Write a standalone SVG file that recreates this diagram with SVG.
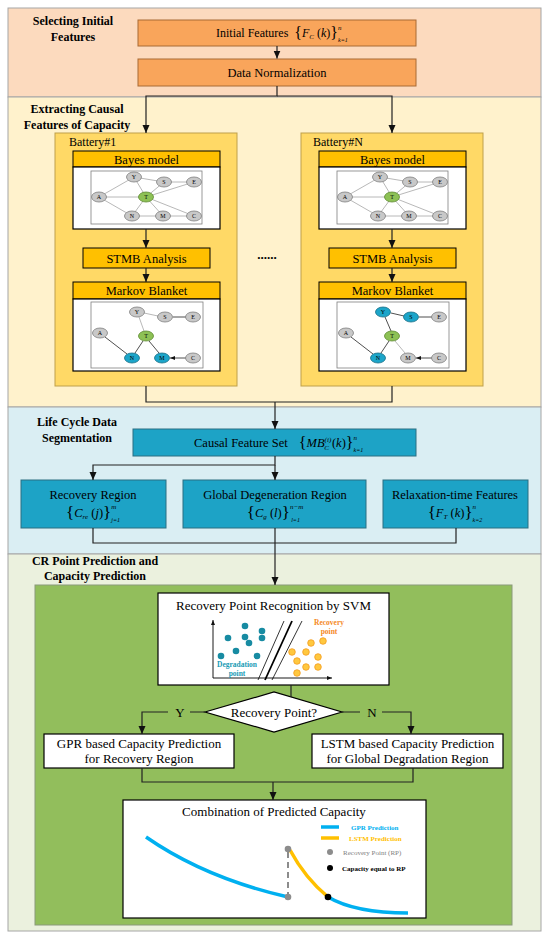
<svg xmlns="http://www.w3.org/2000/svg" xmlns:xlink="http://www.w3.org/1999/xlink" width="550" height="940" viewBox="0 0 550 940">
<style>
text{font-family:"Liberation Serif","Times New Roman",serif;fill:#000}
.title{font-weight:bold;font-size:12px;text-anchor:middle}
.lbl{font-size:12.5px;text-anchor:middle}
.big{font-size:13px;text-anchor:middle}
.sec{stroke:#A6A6A6;stroke-width:1}
.ob{fill:#F9A55B;stroke:#A86A35;stroke-width:1}
.yb{fill:#FFC000;stroke:#000;stroke-width:1}
.tb{fill:#1DA3C6;stroke:#2B6E82;stroke-width:1}
.wb{fill:#fff;stroke:#000;stroke-width:1.2}
.ln{fill:none;stroke:#222;stroke-width:1.2}
.ge{stroke:#A6A6A6;stroke-width:0.8;fill:none}
.ae{stroke:#222;stroke-width:0.8;fill:none;marker-end:url(#sa)}
.ng{fill:#C8C8C8;stroke:#7F7F7F;stroke-width:0.8}
.nG{fill:#8DC155;stroke:#5E8A32;stroke-width:0.8}
.nT{fill:#1CA5C9;stroke:#1B6F86;stroke-width:0.8}
.nl{font-size:6px;text-anchor:middle}
.it{font-style:italic}
.dd{fill:#178BA2}
.od{fill:#FFC83F;stroke:#F49A1E;stroke-width:0.8}
</style>
<defs>
<marker id="ah" markerUnits="userSpaceOnUse" markerWidth="8" markerHeight="8" refX="8" refY="4" orient="auto"><path d="M0,0.5L8,4L0,7.5z" fill="#111"/></marker>
<marker id="sa" markerUnits="userSpaceOnUse" markerWidth="5" markerHeight="4" refX="5" refY="2" orient="auto"><path d="M0,0L5,2L0,4z" fill="#111"/></marker>
<g id="bayesGraph">
<rect x="91" y="171" width="111" height="53" fill="#fff" stroke="#7F7F7F" stroke-width="0.8"/>
<path class="ge" d="M99,197L134,177M99,197L146,197M99,197L132,216M134,177L164,182M134,177L146,197M164,182L194,182M164,182L146,197M194,182L146,197M146,197L132,216M146,197L163,216M146,197L194,216M132,216L163,216M163,216L194,216"/>
<ellipse class="ng" cx="134" cy="177" rx="7.5" ry="5"/><text class="nl" x="134" y="179">Y</text>
<ellipse class="ng" cx="164" cy="182" rx="7.5" ry="5"/><text class="nl" x="164" y="184">S</text>
<ellipse class="ng" cx="194" cy="182" rx="7.5" ry="5"/><text class="nl" x="194" y="184">E</text>
<ellipse class="ng" cx="99" cy="197" rx="7.5" ry="5"/><text class="nl" x="99" y="199">A</text>
<ellipse class="nG" cx="146" cy="197" rx="7.5" ry="5"/><text class="nl" x="146" y="199">T</text>
<ellipse class="ng" cx="132" cy="216" rx="7.5" ry="5"/><text class="nl" x="132" y="218">N</text>
<ellipse class="ng" cx="163" cy="216" rx="7.5" ry="5"/><text class="nl" x="163" y="218">M</text>
<ellipse class="ng" cx="194" cy="216" rx="7.5" ry="5"/><text class="nl" x="194" y="218">C</text>
</g>
</defs>

<!-- Sections -->
<rect class="sec" x="8" y="8" width="533" height="89" fill="#FCDABE"/>
<rect class="sec" x="8" y="97" width="533" height="310" fill="#FFF2CC"/>
<rect class="sec" x="8" y="407" width="533" height="147" fill="#DAEEF3"/>
<rect class="sec" x="8" y="554" width="533" height="377" fill="#EBF1DE"/>
<text class="title" x="73" y="25">Selecting Initial</text>
<text class="title" x="73" y="41">Features</text>
<text class="title" x="77" y="113">Extracting Causal</text>
<text class="title" x="77" y="129">Features of Capacity</text>
<text class="title" x="77" y="426">Life Cycle Data</text>
<text class="title" x="77" y="442">Segmentation</text>
<text class="title" x="95" y="565">CR Point Prediction and</text>
<text class="title" x="95" y="580">Capacity Prediction</text>

<g id="initialFeatures">
<rect class="ob" x="138" y="20" width="278" height="26"/>
<text x="216" y="37" font-size="12">Initial Features <tspan font-size="16" dx="3" dy="1">{</tspan><tspan class="it" dy="-1">F</tspan><tspan class="it" font-size="7" dy="2">C</tspan><tspan dy="-2"> (</tspan><tspan class="it">k</tspan>)<tspan font-size="16" dy="1">}</tspan><tspan class="it" font-size="7" dy="-8">n</tspan><tspan class="it" font-size="6" dx="-3.5" dy="12">k=1</tspan></text>
</g>
<g id="dataNormalization">
<rect class="ob" x="138" y="59" width="278" height="27"/>
<text class="lbl" x="277" y="77">Data Normalization</text>
</g>

<g id="battery1">
<rect x="55" y="133" width="182" height="253" fill="#FFD966" stroke="#BFA04A" stroke-width="1"/>
<text x="69" y="146" font-size="12">Battery#1</text>
<rect class="yb" x="73" y="151" width="147" height="16"/>
<text class="lbl" x="146.5" y="163.5">Bayes model</text>
<rect class="wb" x="73" y="167" width="147" height="62"/>
<use xlink:href="#bayesGraph"/>
<rect class="yb" x="83" y="248" width="127" height="20"/>
<text class="lbl" x="146.5" y="262.5">STMB Analysis</text>
<rect class="yb" x="73" y="282" width="147" height="17"/>
<text class="lbl" x="146.5" y="295">Markov Blanket</text>
<rect class="wb" x="73" y="299" width="147" height="72"/>
<rect x="91" y="302" width="112" height="66" fill="#fff" stroke="#7F7F7F" stroke-width="0.8"/>
<path class="ge" d="M144,313L158,316M139,317L144,331"/>
<path class="ae" d="M186,317L173,317M127,354L105,337M143,341L135,353M159,353L149,341M186,358L170,358"/>
<ellipse class="ng" cx="137" cy="312" rx="7.5" ry="5"/><text class="nl" x="137" y="314">Y</text>
<ellipse class="ng" cx="165" cy="317" rx="7.5" ry="5"/><text class="nl" x="165" y="319">S</text>
<ellipse class="ng" cx="193" cy="317" rx="7.5" ry="5"/><text class="nl" x="193" y="319">E</text>
<ellipse class="ng" cx="100" cy="333" rx="7.5" ry="5"/><text class="nl" x="100" y="335">A</text>
<ellipse class="nG" cx="146" cy="336" rx="7.5" ry="5"/><text class="nl" x="146" y="338">T</text>
<ellipse class="nT" cx="132" cy="358" rx="7.5" ry="5"/><text class="nl" x="132" y="360">N</text>
<ellipse class="nT" cx="162" cy="358" rx="7.5" ry="5"/><text class="nl" x="162" y="360">M</text>
<ellipse class="ng" cx="193" cy="358" rx="7.5" ry="5"/><text class="nl" x="193" y="360">C</text>
</g>

<g id="batteryN" transform="translate(246,0)">
<rect x="55" y="133" width="182" height="253" fill="#FFD966" stroke="#BFA04A" stroke-width="1"/>
<text x="67" y="146" font-size="12">Battery#N</text>
<rect class="yb" x="73" y="151" width="147" height="16"/>
<text class="lbl" x="146.5" y="163.5">Bayes model</text>
<rect class="wb" x="73" y="167" width="147" height="62"/>
<use xlink:href="#bayesGraph"/>
<rect class="yb" x="83" y="248" width="127" height="20"/>
<text class="lbl" x="146.5" y="262.5">STMB Analysis</text>
<rect class="yb" x="73" y="282" width="147" height="17"/>
<text class="lbl" x="146.5" y="295">Markov Blanket</text>
<rect class="wb" x="73" y="299" width="147" height="72"/>
<rect x="91" y="302" width="112" height="66" fill="#fff" stroke="#7F7F7F" stroke-width="0.8"/>
<path class="ge" d="M149,341L159,353"/>
<path class="ae" d="M158,316L145,313M186,317L173,317M145,331L139,317M127,354L105,337M143,341L135,353M186,358L170,358"/>
<ellipse class="nT" cx="137" cy="312" rx="7.5" ry="5"/><text class="nl" x="137" y="314">Y</text>
<ellipse class="nT" cx="165" cy="317" rx="7.5" ry="5"/><text class="nl" x="165" y="319">S</text>
<ellipse class="ng" cx="193" cy="317" rx="7.5" ry="5"/><text class="nl" x="193" y="319">E</text>
<ellipse class="ng" cx="100" cy="333" rx="7.5" ry="5"/><text class="nl" x="100" y="335">A</text>
<ellipse class="nG" cx="146" cy="336" rx="7.5" ry="5"/><text class="nl" x="146" y="338">T</text>
<ellipse class="nT" cx="132" cy="358" rx="7.5" ry="5"/><text class="nl" x="132" y="360">N</text>
<ellipse class="ng" cx="162" cy="358" rx="7.5" ry="5"/><text class="nl" x="162" y="360">M</text>
<ellipse class="ng" cx="193" cy="358" rx="7.5" ry="5"/><text class="nl" x="193" y="360">C</text>
</g>
<text x="267" y="259" font-size="13" font-weight="bold" text-anchor="middle">......</text>

<g id="causalFeatureSet">
<rect class="tb" x="133" y="429" width="283" height="27"/>
<text x="194" y="447" font-size="12.5">Causal Feature Set <tspan font-size="16" dx="8" dy="1">{</tspan><tspan class="it" dy="-1">MB</tspan><tspan class="it" font-size="7" dy="-5">(i)</tspan><tspan class="it" font-size="7" dx="-7" dy="8">C</tspan><tspan dx="3" dy="-3">(</tspan><tspan class="it">k</tspan>)<tspan font-size="16" dy="1">}</tspan><tspan class="it" font-size="7" dy="-8">n</tspan><tspan class="it" font-size="6" dx="-3.5" dy="12">k=1</tspan></text>
</g>
<g id="recoveryRegion">
<rect class="tb" x="21" y="480" width="145" height="48"/>
<text class="lbl" x="93" y="499">Recovery Region</text>
<text x="93" y="518" font-size="12.5" text-anchor="middle"><tspan font-size="17">{</tspan><tspan class="it" dy="-1">C</tspan><tspan class="it" font-size="7" dy="2">re</tspan><tspan dy="-2"> (</tspan><tspan class="it">j</tspan>)<tspan font-size="17" dy="1">}</tspan><tspan class="it" font-size="7" dy="-9">m</tspan><tspan class="it" font-size="6" dx="-5" dy="13">j=1</tspan></text>
</g>
<g id="globalDegeneration">
<rect class="tb" x="183" y="480" width="183" height="48"/>
<text class="lbl" x="275" y="499">Global Degeneration Region</text>
<text x="275" y="518" font-size="12.5" text-anchor="middle"><tspan font-size="17">{</tspan><tspan class="it" dy="-1">C</tspan><tspan class="it" font-size="7" dy="2">g</tspan><tspan dy="-2"> (</tspan><tspan class="it">l</tspan>)<tspan font-size="17" dy="1">}</tspan><tspan class="it" font-size="7" dy="-9">n−m</tspan><tspan class="it" font-size="6" dx="-12" dy="13">l=1</tspan></text>
</g>
<g id="relaxationFeatures">
<rect class="tb" x="383" y="480" width="145" height="48"/>
<text class="lbl" x="455" y="499">Relaxation-time Features</text>
<text x="455" y="518" font-size="12.5" text-anchor="middle"><tspan font-size="17">{</tspan><tspan class="it" dy="-1">F</tspan><tspan class="it" font-size="7" dy="2">T</tspan><tspan dy="-2"> (</tspan><tspan class="it">k</tspan>)<tspan font-size="17" dy="1">}</tspan><tspan class="it" font-size="7" dy="-9">n</tspan><tspan class="it" font-size="6" dx="-3.5" dy="13">k=2</tspan></text>
</g>

<rect x="35" y="585" width="477" height="340" fill="#92BE5C" stroke="#8A9A7A" stroke-width="1"/>

<g id="svm">
<rect class="wb" x="158" y="593" width="231" height="92"/>
<text class="big" x="273.5" y="610">Recovery Point Recognition by SVM</text>
<path d="M213,678H332" stroke="#000" stroke-width="0.9" fill="none" marker-end="url(#sa)"/>
<path d="M213,678V620" stroke="#000" stroke-width="0.9" fill="none" marker-end="url(#sa)"/>
<path d="M258,680L284,621M272,680L302,621" stroke="#000" stroke-width="0.8"/>
<path d="M265,680L292,621" stroke="#000" stroke-width="1.8"/>
<g class="dd">
<circle cx="228" cy="638" r="3.3"/><circle cx="245" cy="626" r="3.3"/><circle cx="245" cy="637" r="3.3"/>
<circle cx="262" cy="631" r="3.3"/><circle cx="262" cy="638" r="3.3"/><circle cx="249" cy="643" r="3.3"/>
<circle cx="221" cy="656" r="3.3"/><circle cx="236" cy="651" r="3.3"/><circle cx="257" cy="656" r="3.3"/>
</g>
<g class="od">
<circle cx="311" cy="643" r="3.3"/><circle cx="323" cy="641" r="3.3"/><circle cx="292" cy="652" r="3.3"/>
<circle cx="306" cy="652" r="3.3"/><circle cx="318" cy="657" r="3.3"/><circle cx="297" cy="661" r="3.3"/>
<circle cx="306" cy="667" r="3.3"/><circle cx="318" cy="667" r="3.3"/><circle cx="297" cy="673" r="3.3"/>
</g>
<text x="237" y="667" font-size="7.5" font-weight="bold" text-anchor="middle" style="fill:#1A9BB5">Degradation</text>
<text x="237" y="676" font-size="7.5" font-weight="bold" text-anchor="middle" style="fill:#1A9BB5">point</text>
<text x="329" y="625" font-size="7.5" font-weight="bold" text-anchor="middle" style="fill:#F58A1F">Recovery</text>
<text x="329" y="634" font-size="7.5" font-weight="bold" text-anchor="middle" style="fill:#F58A1F">point</text>
</g>

<g id="decision">
<polygon points="205,712 274,692 342,712 274,732" fill="#fff" stroke="#000" stroke-width="1.2"/>
<text class="big" x="274" y="716.5">Recovery Point?</text>
</g>
<text class="big" x="180" y="716.5">Y</text>
<text class="big" x="372" y="716.5">N</text>

<g id="gprPrediction">
<rect class="wb" x="44" y="734" width="190" height="34"/>
<text class="big" x="139" y="748">GPR based Capacity Prediction</text>
<text class="big" x="139" y="763">for Recovery Region</text>
</g>
<g id="lstmPrediction">
<rect class="wb" x="312" y="734" width="191" height="34"/>
<text class="big" x="407.5" y="748">LSTM based Capacity Prediction</text>
<text class="big" x="407.5" y="763">for Global Degradation Region</text>
</g>

<g id="combination">
<rect class="wb" x="123" y="800" width="303" height="118"/>
<text class="big" x="274" y="816">Combination of Predicted Capacity</text>
<path d="M146,837Q205,878 288,897" stroke="#00B0F0" stroke-width="3.5" fill="none"/>
<path d="M328,897Q355,913 408,913" stroke="#00B0F0" stroke-width="3.5" fill="none"/>
<path d="M290,850Q305,878 328,897" stroke="#FFC000" stroke-width="3.5" fill="none"/>
<path d="M288,852V895" stroke="#808080" stroke-width="1.8" stroke-dasharray="6,4"/>
<circle cx="288" cy="849" r="3.3" fill="#8C8C8C"/>
<circle cx="288" cy="897" r="3.3" fill="#8C8C8C"/>
<circle cx="328" cy="897" r="3.3" fill="#000"/>
<path d="M321,827H339" stroke="#00B0F0" stroke-width="3.5"/>
<path d="M321,838H339" stroke="#FFC000" stroke-width="3.5"/>
<circle cx="330" cy="852" r="3" fill="#8C8C8C"/>
<circle cx="330" cy="868" r="3" fill="#000"/>
<text x="351" y="830" font-size="7" font-weight="bold" style="fill:#00B0F0">GPR Prediction</text>
<text x="349" y="841" font-size="7" font-weight="bold" style="fill:#FFC000">LSTM Prediction</text>
<text x="343" y="855" font-size="7" style="fill:#808080">Recovery Point (RP)</text>
<text x="342" y="870.5" font-size="7" font-weight="bold">Capacity equal to RP</text>
</g>

<g id="connectors">
<path class="ln" d="M277,46V58.5" marker-end="url(#ah)"/>
<path class="ln" d="M277,86V96H146V133" marker-end="url(#ah)"/>
<path class="ln" d="M277,96H392V133" marker-end="url(#ah)"/>
<path class="ln" d="M146,229V248" marker-end="url(#ah)"/>
<path class="ln" d="M146,268V282" marker-end="url(#ah)"/>
<path class="ln" d="M392,229V248" marker-end="url(#ah)"/>
<path class="ln" d="M392,268V282" marker-end="url(#ah)"/>
<path class="ln" d="M146,386V402H392V386"/>
<path class="ln" d="M275,402V429" marker-end="url(#ah)"/>
<path class="ln" d="M275,456V465H93V480" marker-end="url(#ah)"/>
<path class="ln" d="M275,465V480" marker-end="url(#ah)"/>
<path class="ln" d="M93,528V543H456V528"/>
<path class="ln" d="M275,528V585" marker-end="url(#ah)"/>
<path class="ln" d="M291,685V697"/>
<path class="ln" d="M205,712H190M168,712H142V734" marker-end="url(#ah)"/>
<path class="ln" d="M342,712H360M382,712H411V734" marker-end="url(#ah)"/>
<path class="ln" d="M142,768V782H413V768"/>
<path class="ln" d="M273,782V800" marker-end="url(#ah)"/>
</g>
</svg>
